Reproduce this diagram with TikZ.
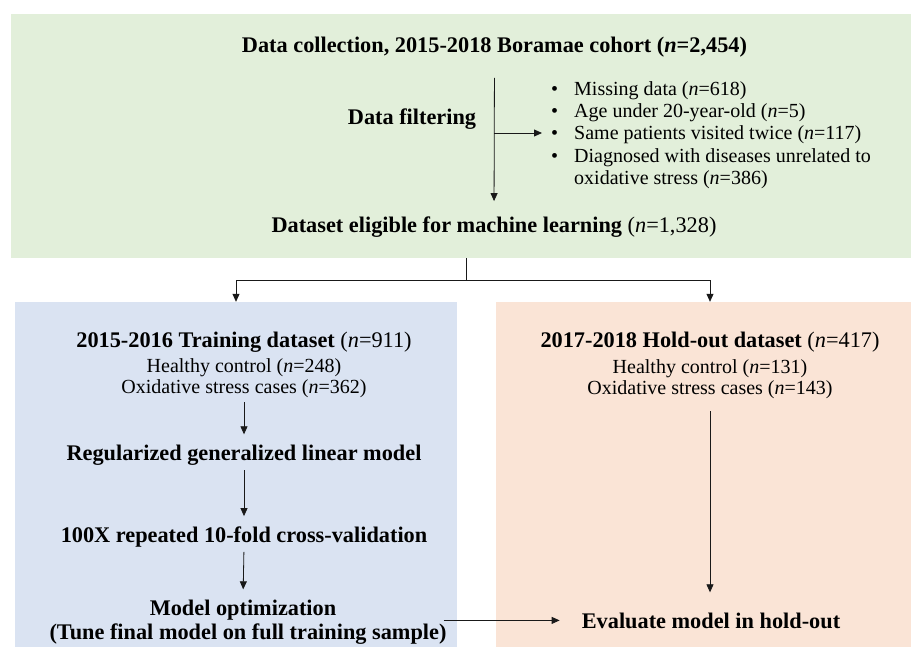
\documentclass[tikz,border=0pt]{standalone}
\usepackage{fontspec}
\setmainfont{Liberation Serif}
\usetikzlibrary{arrows.meta,calc,positioning}
\definecolor{collectgreen}{RGB}{226,239,218}
\definecolor{trainblue}{RGB}{218,227,242}
\definecolor{holdpeach}{RGB}{250,228,214}
\newcommand{\ncount}[1]{{\mdseries(\textit{n}=#1)}}
\tikzset{
    panel/.style={rectangle, draw=none, inner sep=0pt},
    heading/.style={font=\fontsize{22.3}{26}\selectfont\bfseries, inner sep=0pt, anchor=base},
    detail/.style={font=\fontsize{20}{24}\selectfont, inner sep=0pt, anchor=base},
    flow/.style={-{Triangle[length=8pt,width=7pt]}, line width=0.8pt, draw=black!90},
    stepflow/.style={flow, shorten <=5pt, shorten >=10pt}
}

\begin{document}
\begin{tikzpicture}[x=1pt, y=-1pt]
    \useasboundingbox (0,0) rectangle (911,647);
    % coloured panels
    \node [panel, fill=collectgreen, minimum width=900pt, minimum height=244pt] (collect) at (461,136) {};
    \node [panel, fill=trainblue, minimum width=442pt, minimum height=345pt] (trainpanel) at (236,474.5) {};
    \node [panel, fill=holdpeach, minimum width=415pt, minimum height=345pt] (holdpanel) at (703.5,474.5) {};

    % data collection and filtering
    \node [heading] (collecthead) at (494.5,53) {Data collection, 2015-2018 Boramae cohort (\textit{n}=2,454)};
    \node [heading] (filtering) at (412,125) {Data filtering};
    \node [heading] (eligible) at (494,233) {Dataset eligible for machine learning \ncount{1,328}};
    \node [anchor=west, inner sep=0pt, font=\fontsize{20}{22.3}\selectfont] (removed) at (551,135.5) {%
        \begin{tabular}{@{}c@{\hspace{16pt}}l@{}}
            \textbullet & Missing data (\textit{n}=618)\\
            \textbullet & Age under 20-year-old (\textit{n}=5)\\
            \textbullet & Same patients visited twice (\textit{n}=117)\\
            \textbullet & Diagnosed with diseases unrelated to\\
                        & oxidative stress (\textit{n}=386)
        \end{tabular}};
    \coordinate (split) at (494,133);
    \draw [flow, shorten <=20pt, shorten >=16pt] (collecthead.south) -- (eligible.north);
    \draw [flow, shorten >=9pt] (split) -- (removed.west |- split);

    % training data
    \node [heading] (trainhead) at (244,347) {2015-2016 Training dataset \ncount{911}};
    \node [detail] (trainctrl) at (244,372) {Healthy control (\textit{n}=248)};
    \node [detail] (traincase) at (244,393) {Oxidative stress cases (\textit{n}=362)};
    \node [heading] (glm) at (244,460) {Regularized generalized linear model};
    \node [heading] (cv) at (244,542) {100X repeated 10-fold cross-validation};
    \node [heading] (optim) at (243,615) {Model optimization};
    \node [heading] (tune) at (248,639) {(Tune final model on full training sample)};

    % hold-out data
    \node [heading] (holdhead) at (710,348) {2017-2018 Hold-out dataset \ncount{417}};
    \node [detail] (holdctrl) at (710,373) {Healthy control (\textit{n}=131)};
    \node [detail] (holdcase) at (710,394) {Oxidative stress cases (\textit{n}=143)};
    \node [heading] (evaluate) at (711,628) {Evaluate model in hold-out};

    % split into the two datasets
    \coordinate (fork) at (466,280);
    \draw [line width=0.8pt, draw=black!90] (collect.south -| fork) -- (fork);
    \draw [flow] (fork) -| (trainpanel.north);
    \draw [flow] (fork) -| (holdhead.north |- holdpanel.north);

    \draw [stepflow] (traincase.south) -- (glm.north);
    \draw [stepflow] (glm.south) -- (cv.north);
    \draw [stepflow] (cv.south) -- (optim.north);
    \draw [flow, shorten <=13pt, shorten >=20pt] (holdcase.south) -- (holdcase.south |- evaluate.north);
    \draw [flow, shorten >=22pt] ([xshift=-3pt]tune.north east |- evaluate.west) -- (evaluate.west);
\end{tikzpicture}
\end{document}
